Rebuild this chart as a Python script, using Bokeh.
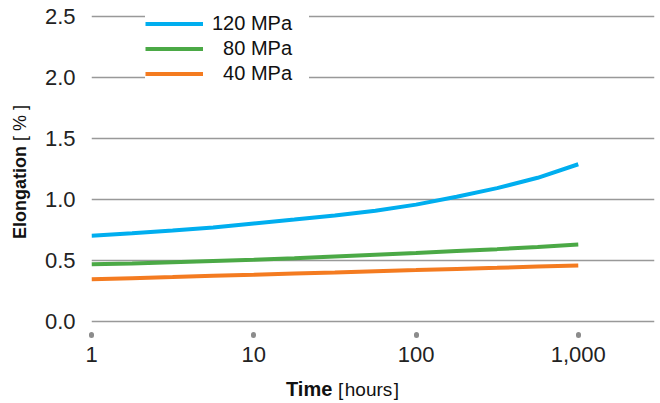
from bokeh.plotting import figure
from bokeh.models import (Range1d, FixedTicker, NumeralTickFormatter, Legend, LegendItem, Div)
from bokeh.layouts import row, column
from bokeh.embed import file_html
from bokeh.resources import INLINE

# ---- data ----
time_hours = [1, 1.78, 3.16, 5.62, 10, 17.8, 31.6, 56.2, 100, 178, 316, 562, 1000]
elong_120 = [0.700, 0.720, 0.742, 0.768, 0.800, 0.832, 0.865, 0.905, 0.955, 1.020, 1.090, 1.175, 1.286]
elong_80 = [0.465, 0.473, 0.483, 0.493, 0.503, 0.516, 0.530, 0.544, 0.558, 0.574, 0.590, 0.608, 0.628]
elong_40 = [0.342, 0.352, 0.361, 0.371, 0.380, 0.390, 0.399, 0.409, 0.418, 0.428, 0.437, 0.447, 0.456]
series_names = ["120 MPa", "\u200780 MPa", "\u200740 MPa"]
series_colors = ["#00AEEF", "#4BA946", "#F47B20"]
x_ticks = [1, 10, 100, 1000]
y_ticks = [0.0, 0.5, 1.0, 1.5, 2.0, 2.5]
x_title_bold, x_title_rest = "Time", "[\u200ahours\u200a]"
y_title_bold, y_title_rest = "Elongation", "[ % ]"

FONT = "Liberation Sans"

p = figure(width=618, height=372, x_axis_type="log",
           x_range=Range1d(1, 2950), y_range=Range1d(-0.11, 2.563),
           output_backend="svg", toolbar_location=None,
           min_border_left=51, min_border_right=4, min_border_top=8, min_border_bottom=38)
p.outline_line_color = None
p.background_fill_color = "white"

# grid
p.xgrid.grid_line_color = None
p.ygrid.ticker = FixedTicker(ticks=y_ticks)
p.ygrid.grid_line_color = "#999999"
p.ygrid.grid_line_width = 1.5

# x axis
xa = p.xaxis[0]
xa.ticker = FixedTicker(ticks=x_ticks)
xa.formatter = NumeralTickFormatter(format="0,0")
xa.axis_line_color = None
xa.minor_tick_line_color = None
xa.major_tick_line_color = "#8c8c8c"
xa.major_tick_line_width = 5
xa.major_tick_line_cap = "round"
xa.major_tick_out = 1
xa.major_tick_in = 0
xa.major_label_standoff = 11
xa.major_label_text_font = FONT
xa.major_label_text_font_size = "22px"
xa.major_label_text_color = "#222222"

# y axis
ya = p.yaxis[0]
ya.ticker = FixedTicker(ticks=y_ticks)
ya.formatter = NumeralTickFormatter(format="0.0")
ya.axis_line_color = None
ya.major_tick_line_color = None
ya.minor_tick_line_color = None
ya.major_label_standoff = 10
ya.major_label_text_font = FONT
ya.major_label_text_font_size = "22px"
ya.major_label_text_color = "#222222"

# lines
renderers = []
for ys, c in zip([elong_120, elong_80, elong_40], series_colors):
    r = p.line(time_hours, ys, line_color=c, line_width=4)
    renderers.append(r)

legend = Legend(items=[LegendItem(label=n, renderers=[r]) for n, r in zip(series_names, renderers)],
                location=(54, 248), orientation="vertical",
                glyph_width=58, glyph_height=25, label_height=25, label_width=97, label_standoff=9,
                spacing=0, padding=10, margin=0,
                label_text_font=FONT, label_text_font_size="20px", label_text_color="#111111",
                background_fill_color="white", background_fill_alpha=1.0,
                border_line_color=None)
p.add_layout(legend)

# axis titles (mixed bold / regular) as HTML
xdiv = Div(text=(f'<div style="position:absolute; left:246px; top:7px; font-family:\'{FONT}\'; '
                 f'font-size:20px; line-height:20px; color:#111; white-space:nowrap;">'
                 f'<b>{x_title_bold}</b> <span style="font-size:19px">{x_title_rest}</span></div>'),
           width=618, height=28, margin=0)
ydiv = Div(text=(f'<div style="position:absolute; left:11px; top:239px; font-family:\'{FONT}\'; '
                 f'font-size:18px; line-height:18px; color:#111; white-space:nowrap; '
                 f'transform:rotate(-90deg); transform-origin:0 0;">'
                 f'<b>{y_title_bold}</b> {y_title_rest}</div>'),
           width=40, height=400, margin=0)

layout = row(ydiv, column(p, xdiv, spacing=0), spacing=0)

open("out.html", "w").write(file_html(layout, INLINE))
